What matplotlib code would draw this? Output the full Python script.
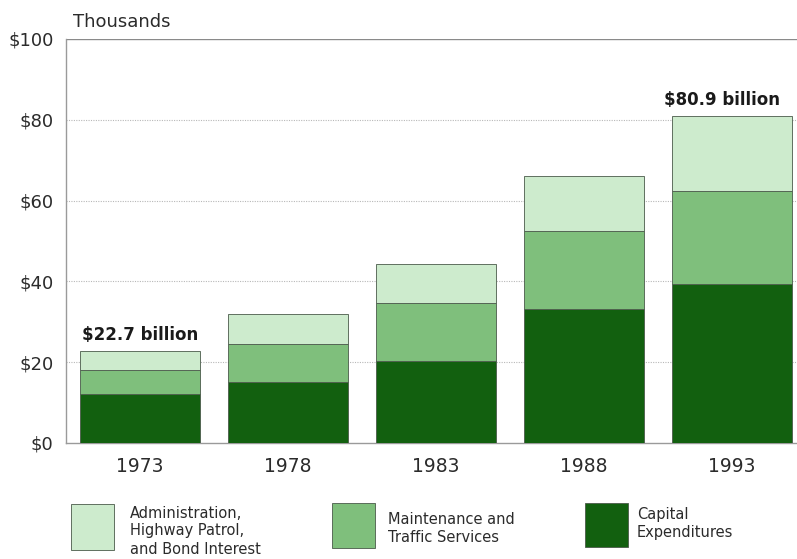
import matplotlib
matplotlib.use("Agg")
import matplotlib.pyplot as plt
from matplotlib.patches import Rectangle

plt.rcParams['font.family'] = ['DejaVu Sans']

# Highway spending, thousands of dollars (millions shown as billions in labels)
years = ["1973", "1978", "1983", "1988", "1993"]
capital = [12.1, 15.0, 20.4, 33.2, 39.4]
maintenance = [6.0, 9.6, 14.3, 19.3, 23.1]
administration = [4.6, 7.3, 9.5, 13.7, 18.4]
total_labels = {0: "$22.7 billion", 4: "$80.9 billion"}
yticks = [0, 20, 40, 60, 80, 100]

c_admin = "#cdebcd"
c_maint = "#7fbf7c"
c_cap = "#12600f"
edge = "#4a5a4a"
text_col = "#2b2b2b"

fig = plt.figure(figsize=(7.97, 5.59), dpi=100)
ax = fig.add_axes([66/797, 1-443/559, 1-66/797, (443-39)/559])

x = list(range(len(years)))
w = 0.81
bottom2 = [c + m for c, m in zip(capital, maintenance)]
ax.bar(x, capital, w, color=c_cap, edgecolor=edge, linewidth=0.6, zorder=3)
ax.bar(x, maintenance, w, bottom=capital, color=c_maint, edgecolor=edge, linewidth=0.6, zorder=3)
ax.bar(x, administration, w, bottom=bottom2, color=c_admin, edgecolor=edge, linewidth=0.6, zorder=3)

totals = [b + a for b, a in zip(bottom2, administration)]
for i, lab in total_labels.items():
    ax.text(x[i] + (0.0 if i == 0 else -0.07), totals[i] + 1.7, lab, ha="center", va="bottom",
            fontsize=12, fontweight="bold", color="#1a1a1a", zorder=4)

ax.set_xlim(-0.5, 4.44)
ax.set_ylim(0, 100)
ax.set_yticks(yticks)
ax.set_yticklabels([f"${v}" for v in yticks], fontsize=13, color=text_col)
ax.set_xticks(x)
ax.set_xticklabels(years, fontsize=13.5, color=text_col)
ax.tick_params(axis="both", length=0, pad=9)
ax.tick_params(axis="x", pad=10)

for v in yticks[1:-1]:
    ax.axhline(v, color="#b8b8b8", linewidth=0.8, linestyle=(0, (1, 1.2)), zorder=1)
ax.axhline(100, color="#8a8a8a", linewidth=1.0, zorder=1)

for s in ["top", "right"]:
    ax.spines[s].set_visible(False)
ax.spines["left"].set_color("#9a9a9a")
ax.spines["bottom"].set_color("#9a9a9a")
ax.spines["left"].set_linewidth(1.0)
ax.spines["bottom"].set_linewidth(1.0)

fig.text(73/797, 1-22/559, "Thousands", fontsize=13, color=text_col, va="center", ha="left")

# Legend built from patches and text placed in figure pixels
def px(xp, yp):
    return xp/797, 1-yp/559

legend_items = [
    (71, 504, 43, 46, c_admin, 130, ["Administration,", "Highway Patrol,", "and Bond Interest"], 513),
    (332, 503, 43, 45, c_maint, 388, ["Maintenance and", "Traffic Services"], 519),
    (585, 503, 43, 44, c_cap, 637, ["Capital", "Expenditures"], 515),
]
for bx, by, bw, bh, col, tx, lines, ty in legend_items:
    x0, y1 = px(bx, by + bh)
    fig.patches.append(Rectangle((x0, y1), bw/797, bh/559, transform=fig.transFigure,
                                 facecolor=col, edgecolor=edge, linewidth=0.6))
    for k, line in enumerate(lines):
        tx0, ty0 = px(tx, ty + k*18)
        fig.text(tx0, ty0, line, fontsize=10.5, color=text_col, va="center", ha="left")

fig.savefig("out.png", dpi=100, facecolor="white")
